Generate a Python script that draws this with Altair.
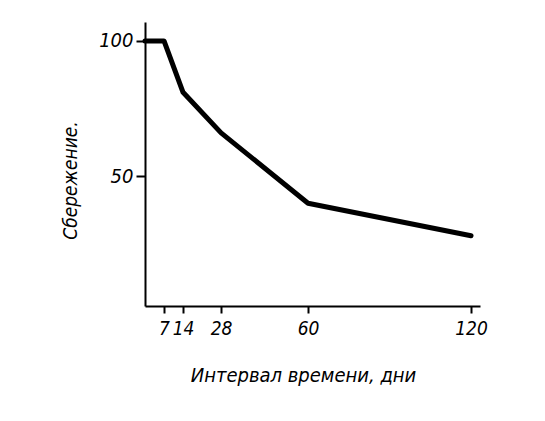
import altair as alt
import pandas as pd

days = [0, 7, 14, 28, 60, 120]
saving = [100, 100, 81, 66, 40, 28]
x_ticks = [7, 14, 28, 60, 120]
y_ticks = [50, 100]

df = pd.DataFrame({"days": days, "saving": saving})

FONT = "DejaVu Sans Condensed"

chart = alt.Chart(df).mark_line(color="black", strokeWidth=5, strokeJoin="round", strokeCap="round").encode(
    x=alt.X("days:Q",
            scale=alt.Scale(domain=[0, 123.3], nice=False, zero=False),
            axis=alt.Axis(values=x_ticks, title="Интервал времени, дни", grid=False,
                          domainColor="black", domainWidth=2, tickColor="black", tickWidth=2,
                          tickSize=7, labelPadding=6, labelFont=FONT, labelFontSize=19,
                          labelFontStyle="italic", labelColor="black", labelOverlap=False,
                          titleFont=FONT, titleFontSize=20, titleFontStyle="italic",
                          titleFontWeight="normal", titleColor="black",
                          titleX=158, titleY=69, titleAlign="center", titleBaseline="middle")),
    y=alt.Y("saving:Q",
            scale=alt.Scale(domain=[2, 107], nice=False, zero=False),
            axis=alt.Axis(values=y_ticks, title="Сбережение.", grid=False,
                          domainColor="black", domainWidth=2, tickColor="black", tickWidth=2,
                          tickSize=9, labelPadding=3, labelFont=FONT, labelFontSize=20,
                          labelFontStyle="italic", labelColor="black",
                          titleFont=FONT, titleFontSize=19, titleFontStyle="italic",
                          titleFontWeight="normal", titleColor="black",
                          titleX=-75, titleY=158, titleAlign="center", titleBaseline="middle")),
).properties(
    width=335, height=284,
    autosize=alt.AutoSizeParams(type="none"),
    padding={"left": 137, "top": 14, "right": 50, "bottom": 90},
    background="white",
).configure_view(stroke=None)

chart.save("out.html", embed_options={"renderer": "svg", "actions": False})
